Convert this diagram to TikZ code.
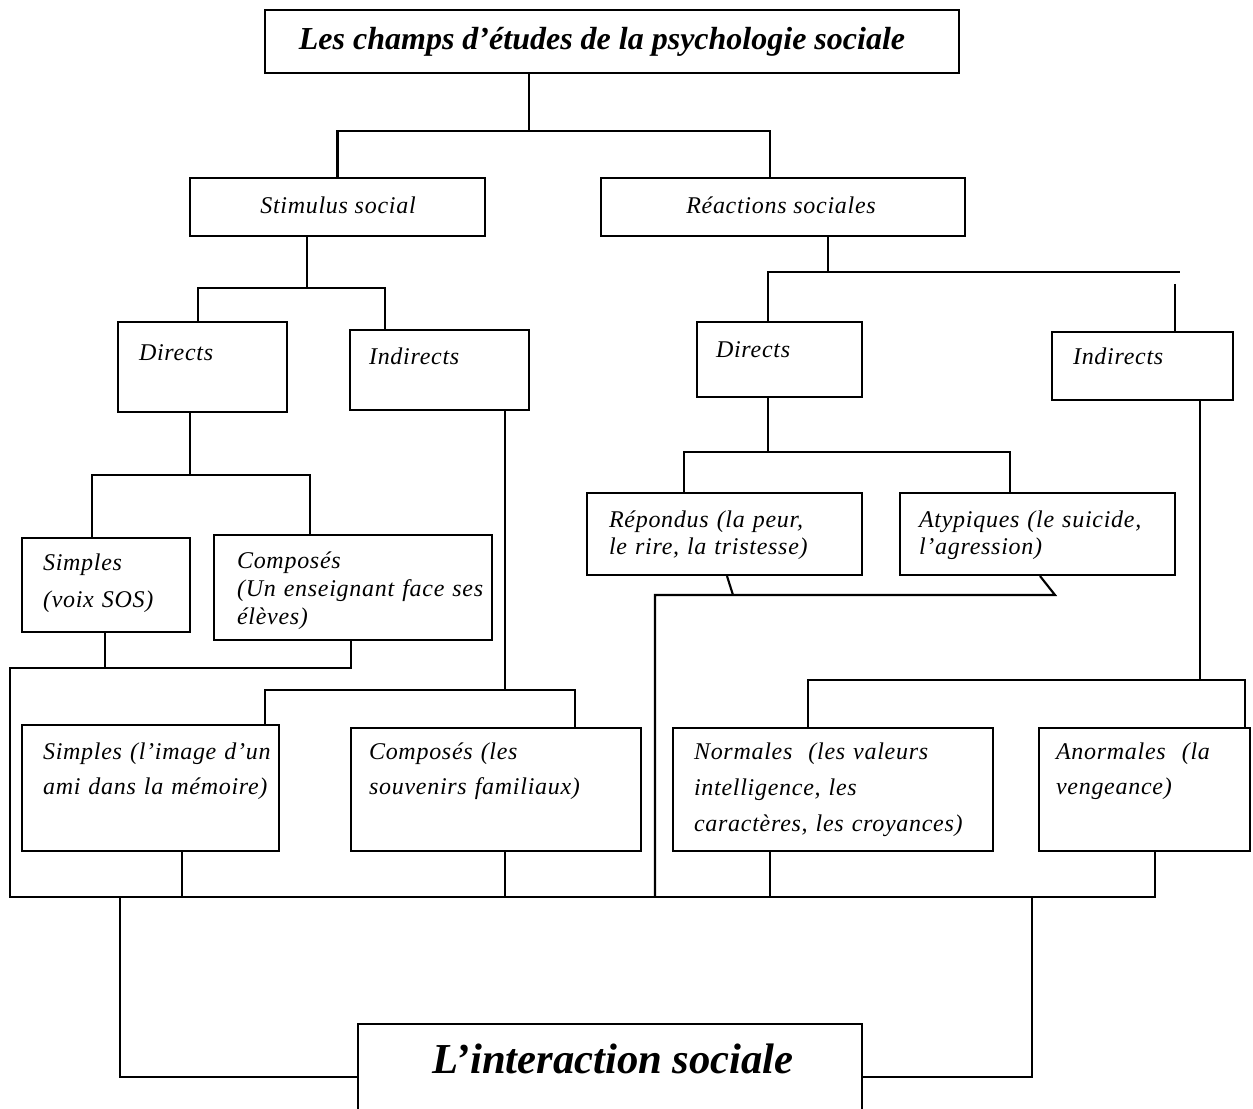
\documentclass[tikz,border=0pt]{standalone}
\usepackage{fontspec}
\setmainfont{Liberation Serif}
\newfontfamily\bxf[LetterSpace=3]{Liberation Serif}
\usetikzlibrary{fit,calc}
\begin{document}
\begin{tikzpicture}[x=0.75pt,y=-0.75pt,line width=1.6pt,
  box/.style={draw,line width=1.6pt,inner sep=0pt},
  lbl/.style={inner sep=0pt,anchor=base west,align=left,text width=260pt,
    font={\bxf\itshape\fontsize{18}{#1}\selectfont}},
  lbl/.default=20.25,
  clbl/.style={inner sep=0pt,anchor=base,font={\bxf\itshape\fontsize{18}{20}\selectfont}},
  big/.style={inner sep=0pt,anchor=base,font={\bfseries\itshape\fontsize{#1}{#1}\selectfont}}]
\useasboundingbox[fill=white] (0,0) rectangle (1253,1109);
% boxes
\node[box,fit={(265,10) (959,73)}] (title) {};
\node[box,fit={(190,178) (485,236)}] (stim) {};
\node[box,fit={(601,178) (965,236)}] (reac) {};
\node[box,fit={(118,322) (287,412)}] (dirL) {};
\node[box,fit={(350,330) (529,410)}] (indL) {};
\node[box,fit={(697,322) (862,397)}] (dirR) {};
\node[box,fit={(1052,332) (1233,400)}] (indR) {};
\node[box,fit={(22,538) (190,632)}] (simp) {};
\node[box,fit={(214,535) (492,640)}] (comp) {};
\node[box,fit={(587,493) (862,575)}] (rep) {};
\node[box,fit={(900,493) (1175,575)}] (aty) {};
\node[box,fit={(22,725) (279,851)}] (simp2) {};
\node[box,fit={(351,728) (641,851)}] (comp2) {};
\node[box,fit={(673,728) (993,851)}] (norm) {};
\node[box,fit={(1039,728) (1250,851)}] (anorm) {};
\node[box,fit={(358,1024) (862,1130)}] (inter) {};
% texts
\node[big=24] (titleT) at (602,50) {Les champs d’études de la psychologie sociale};
\node[clbl] (stimT) at (338,214) {Stimulus social};
\node[clbl] (reacT) at (781,214) {Réactions sociales};
\node[lbl] (dirLT) at (138,360) {Directs};
\node[lbl] (indLT) at (368,364) {Indirects};
\node[lbl] (dirRT) at (715,358) {Directs};
\node[lbl] (indRT) at (1072,364) {Indirects};
\node[lbl=27.75] (simpT) at (42,570) {Simples\\(voix SOS)};
\node[lbl=21] (compT) at (236,568) {Composés\\(Un enseignant face ses\\élèves)};
\node[lbl=20.25] (repT) at (608,527) {Répondus (la peur,\\le rire, la tristesse)};
\node[lbl=20.25] (atyT) at (918,527) {Atypiques (le suicide,\\l’agression)};
\node[lbl=26.25] (simp2T) at (42,759) {Simples (l’image d’un\\ami dans la mémoire)};
\node[lbl=26.25] (comp2T) at (368,759) {Composés (les\\souvenirs familiaux)};
\node[lbl=27] (normT) at (693,759) {Normales~ (les valeurs\\intelligence, les\\caractères, les croyances)};
\node[lbl=26.25] (anormT) at (1055,759) {Anormales~ (la\\vengeance)};
\node[big=32] (interT) at (613,1073) {L’interaction sociale};
% junction coordinates
\coordinate (a1) at (529,131);
\coordinate (a2) at (770,131);
\coordinate (b1) at (307,288);
\coordinate (b2) at (198,288);
\coordinate (b3) at (385,288);
\coordinate (c1) at (190,475);
\coordinate (c2) at (92,475);
\coordinate (c3) at (310,475);
\coordinate (d0) at (10,668);
\coordinate (d1) at (105,668);
\coordinate (d2) at (351,668);
\coordinate (h1) at (505,690);
\coordinate (h2) at (265,690);
\coordinate (h3) at (575,690);
\coordinate (e0) at (10,897);
\coordinate (e1) at (182,897);
\coordinate (e2) at (505,897);
\coordinate (e3) at (655,897);
\coordinate (e4) at (770,897);
\coordinate (e9) at (1155,897);
\coordinate (k1) at (828,272);
\coordinate (k2) at (768,272);
\coordinate (k3) at (1180,272);
\coordinate (k4) at (1175,284);
\coordinate (m1) at (768,452);
\coordinate (m2) at (684,452);
\coordinate (m3) at (1010,452);
\coordinate (n0) at (655,595);
\coordinate (n1) at (733,595);
\coordinate (n1b) at (727,595);
\coordinate (n2) at (1055,595);
\coordinate (n2b) at (1040,595);
\coordinate (p1) at (1200,680);
\coordinate (p2) at (808,680);
\coordinate (p3) at (1245,680);
\coordinate (q1) at (120,897);
\coordinate (q2) at (120,1077);
\coordinate (r1) at (1032,897);
\coordinate (r2) at (1032,1077);
% connectors
\draw (title.south -| a1) -- (a1);
\draw (stim.north) |- (a1) -- (a2) -- (a2 |- reac.north);
\draw (stim.south -| b1) -- (b1);
\draw (b2 |- dirL.north) -- (b2) -- (b3) -- (b3 |- indL.north);
\draw (dirL.south -| c1) -- (c1);
\draw (c2 |- simp.north) -- (c2) -- (c3) -- (c3 |- comp.north);
\draw (simp.south -| d1) -- (d1);
\draw (comp.south -| d2) -- (d2) -- (d0) -- (e0) -- (e9) -- (e9 |- anorm.south);
\draw (indL.south -| h1) -- (h1);
\draw (h2 |- simp2.north) -- (h2) -- (h3) -- (h3 |- comp2.north);
\draw (simp2.south -| e1) -- (e1);
\draw (comp2.south -| e2) -- (e2);
\draw (norm.south -| e4) -- (e4);
\draw (reac.south -| k1) -- (k1);
\draw (k2 |- dirR.north) -- (k2) -- (k3);
\draw (k4) -- (k4 |- indR.north);
\draw (dirR.south -| m1) -- (m1);
\draw (m2 |- rep.north) -- (m2) -- (m3) -- (m3 |- aty.north);
\draw (rep.south -| n1b) -- (n1);
\draw (aty.south -| n2b) -- (n2) -- (n0) -- (e3);
\draw (indR.south -| p1) -- (p1);
\draw (p2 |- norm.north) -- (p2) -- (p3) -- (p3 |- anorm.north);
\draw (q1) -- (q2) -- (q2 -| inter.west);
\draw (r1) -- (r2) -- (r2 -| inter.east);
\end{tikzpicture}
\end{document}
